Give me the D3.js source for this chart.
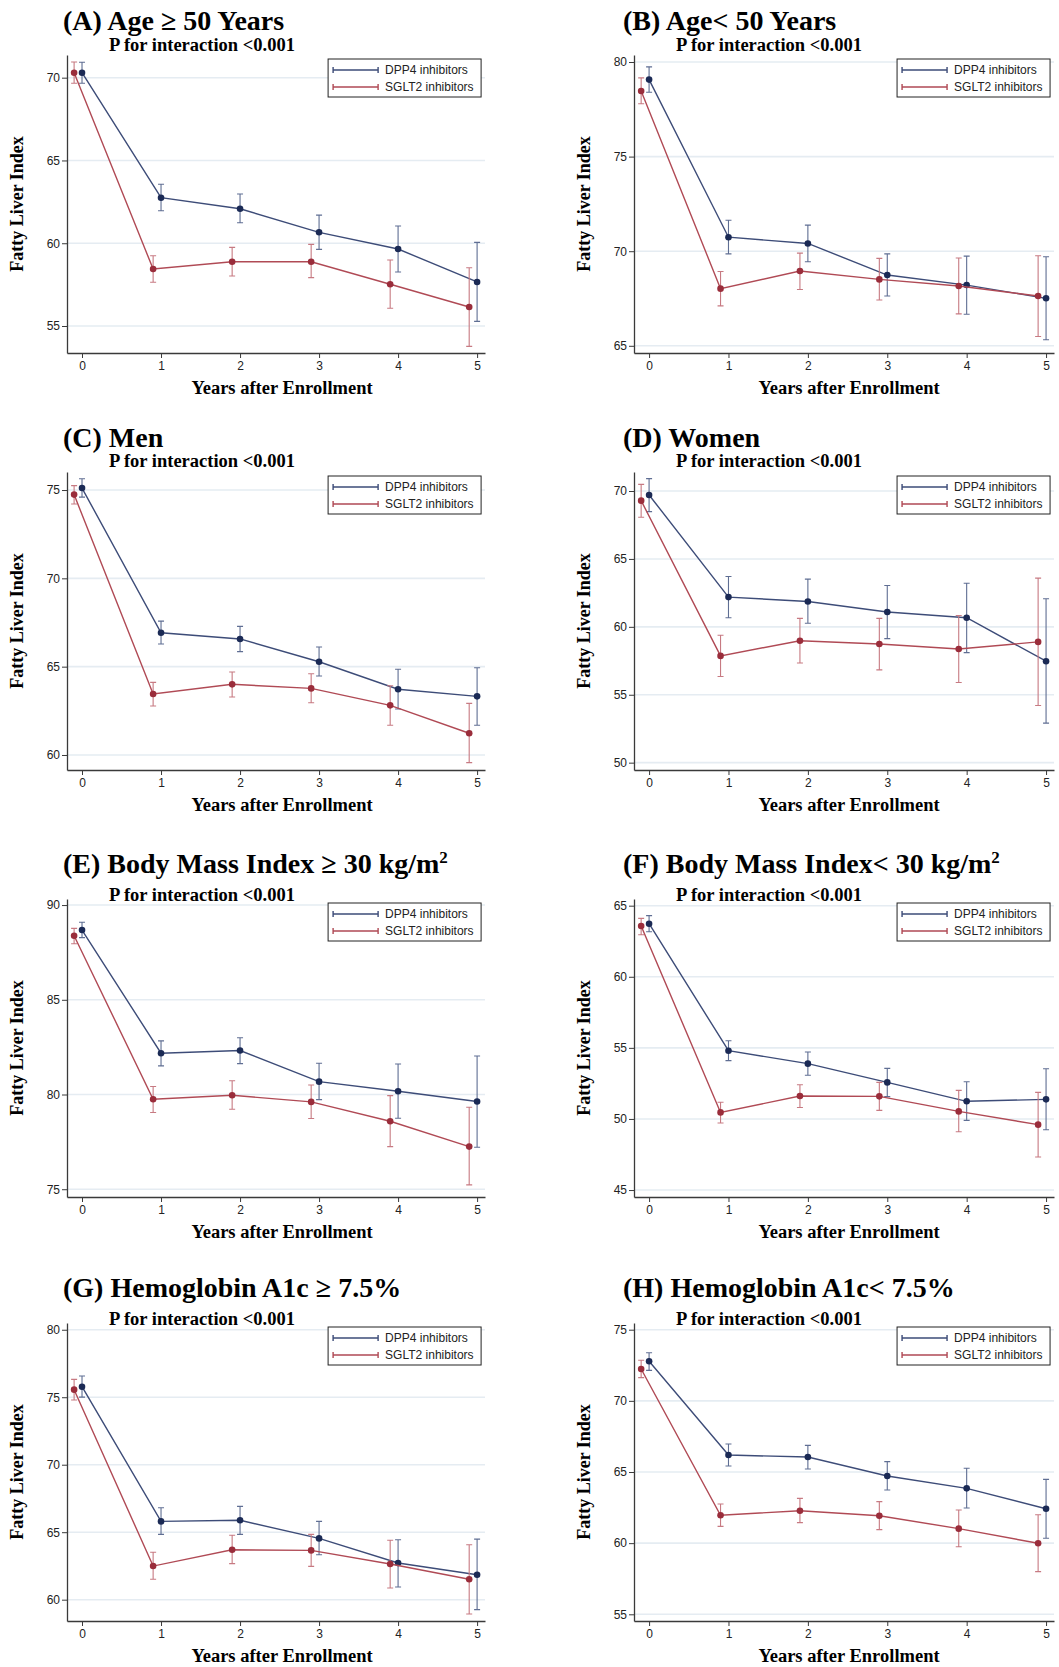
<!DOCTYPE html>
<html>
<head>
<meta charset="utf-8">
<script src="https://cdn.jsdelivr.net/npm/d3@7"></script>
<style>
  body { margin: 0; background: #fff; }
  svg { display: block; }
  .ttl { font-family: "Liberation Serif", "Times New Roman", serif; font-weight: bold; fill: #000; }
  .tick text, .leg text { font-family: "Liberation Sans", Arial, sans-serif; }
</style>
</head>
<body>
<svg id="chart" width="1059" height="1667"></svg>
<script>
// ---- data ----
const years = [0, 1, 2, 3, 4, 5];
const seriesNames = ["DPP4 inhibitors", "SGLT2 inhibitors"];

const titles = [
  "(A) Age \u2265 50 Years", "(B) Age< 50 Years",
  "(C) Men", "(D) Women",
  "(E) Body Mass Index \u2265 30 kg/m", "(F) Body Mass Index< 30 kg/m",
  "(G) Hemoglobin A1c \u2265 7.5%", "(H) Hemoglobin A1c< 7.5%"
];
const titleSup = ["", "", "", "", "2", "2", "", ""];
const pText = "P for interaction <0.001";

const yTicksA = [55, 60, 65, 70], yRangeA = [53.37, 71.37];
const yTicksB = [65, 70, 75, 80], yRangeB = [64.62, 80.37];
const yTicksC = [60, 65, 70, 75], yRangeC = [59.15, 76.02];
const yTicksD = [50, 55, 60, 65, 70], yRangeD = [49.46, 71.4];
const yTicksE = [75, 80, 85, 90], yRangeE = [74.59, 90.32];
const yTicksF = [45, 50, 55, 60, 65], yRangeF = [44.51, 65.47];
const yTicksG = [60, 65, 70, 75, 80], yRangeG = [58.42, 80.5];
const yTicksH = [55, 60, 65, 70, 75], yRangeH = [54.53, 75.47];

// (A) Age >= 50
const dppA  = [70.30, 62.75, 62.08, 60.66, 59.65, 57.66];
const dppLoA = [69.66, 61.96, 61.24, 59.63, 58.26, 55.28];
const dppHiA = [70.93, 63.56, 62.97, 61.70, 61.04, 60.05];
const sgA   = [70.30, 58.44, 58.88, 58.88, 57.52, 56.15];
const sgLoA = [69.66, 57.64, 58.02, 57.92, 56.07, 53.77];
const sgHiA = [70.95, 59.24, 59.75, 59.93, 58.99, 58.52];
// (B) Age < 50
const dppB  = [79.07, 70.74, 70.41, 68.74, 68.21, 67.51];
const dppLoB = [78.40, 69.86, 69.44, 67.63, 66.67, 65.32];
const dppHiB = [79.74, 71.64, 71.38, 69.86, 69.74, 69.71];
const sgB   = [78.47, 68.02, 68.95, 68.51, 68.16, 67.63];
const sgLoB = [77.79, 67.11, 67.98, 67.42, 66.69, 65.49];
const sgHiB = [79.16, 68.93, 69.90, 69.62, 69.64, 69.76];
// (C) Men
const dppC  = [75.11, 66.92, 66.57, 65.28, 63.72, 63.32];
const dppLoC = [74.60, 66.28, 65.85, 64.47, 62.60, 61.68];
const dppHiC = [75.64, 67.58, 67.28, 66.11, 64.85, 64.94];
const sgC   = [74.74, 63.45, 64.00, 63.77, 62.81, 61.23];
const sgLoC = [74.21, 62.77, 63.28, 62.96, 61.68, 59.57];
const sgHiC = [75.25, 64.11, 64.70, 64.60, 63.92, 62.92];
// (D) Women
const dppD  = [69.71, 62.19, 61.87, 61.09, 60.67, 57.47];
const dppLoD = [68.48, 60.67, 60.26, 59.13, 58.10, 52.91];
const dppHiD = [70.91, 63.71, 63.51, 63.04, 63.21, 62.07];
const sgD   = [69.29, 57.86, 58.98, 58.74, 58.37, 58.89];
const sgLoD = [68.07, 56.34, 57.34, 56.83, 55.90, 54.21];
const sgHiD = [70.49, 59.38, 60.62, 60.62, 60.84, 63.59];
// (E) BMI >= 30
const dppE  = [88.68, 82.18, 82.32, 80.68, 80.17, 79.63];
const dppLoE = [88.28, 81.51, 81.63, 79.73, 78.75, 77.22];
const dppHiE = [89.09, 82.83, 83.00, 81.65, 81.61, 82.03];
const sgE   = [88.38, 79.75, 79.96, 79.61, 78.59, 77.25];
const sgLoE = [87.96, 79.05, 79.22, 78.73, 77.25, 75.23];
const sgHiE = [88.77, 80.42, 80.73, 80.50, 79.94, 79.33];
// (F) BMI < 30
const dppF  = [63.73, 54.80, 53.89, 52.57, 51.24, 51.38];
const dppLoF = [63.17, 54.10, 53.07, 51.57, 49.90, 49.24];
const dppHiF = [64.30, 55.50, 54.71, 53.56, 52.62, 53.53];
const sgF   = [63.57, 50.46, 51.61, 51.59, 50.53, 49.60];
const sgLoF = [62.96, 49.71, 50.81, 50.60, 49.10, 47.32];
const sgHiF = [64.11, 51.17, 52.41, 52.57, 52.01, 51.87];
// (G) HbA1c >= 7.5
const dppG  = [75.78, 65.80, 65.88, 64.54, 62.72, 61.85];
const dppLoG = [75.01, 64.84, 64.84, 63.33, 60.94, 59.26];
const dppHiG = [76.57, 66.81, 66.91, 65.80, 64.44, 64.49];
const sgG   = [75.56, 62.49, 63.70, 63.65, 62.64, 61.51];
const sgLoG = [74.79, 61.51, 62.67, 62.47, 60.86, 58.94];
const sgHiG = [76.32, 63.51, 64.77, 64.84, 64.40, 64.07];
// (H) HbA1c < 7.5
const dppH  = [72.78, 66.19, 66.05, 64.72, 63.85, 62.42];
const dppLoH = [72.14, 65.42, 65.21, 63.74, 62.47, 60.34];
const dppHiH = [73.38, 66.97, 66.87, 65.73, 65.26, 64.48];
const sgH   = [72.24, 61.96, 62.28, 61.93, 61.02, 59.99];
const sgLoH = [71.63, 61.18, 61.44, 60.95, 59.75, 58.00];
const sgHiH = [72.85, 62.75, 63.15, 62.92, 62.33, 62.00];

// ---- layout ----
const colAxisX = [67, 634], colRightX = [485, 1054], colTitleX = [63, 623];
const rowTop = [55, 472, 899, 1323], rowTitleY = [20, 437, 863, 1287], rowPY = [45, 461, 895, 1319];
const plotH = 298;

const lineCol = ["#3d4c78", "#b04a55"],
      dotCol  = ["#1b2a55", "#9a2d3b"],
      barCol  = ["#5f6e93", "#c77a82"];
const xShift = [0, -0.1];

const panels = [
  [yTicksA, yRangeA, [[dppA, dppLoA, dppHiA], [sgA, sgLoA, sgHiA]]],
  [yTicksB, yRangeB, [[dppB, dppLoB, dppHiB], [sgB, sgLoB, sgHiB]]],
  [yTicksC, yRangeC, [[dppC, dppLoC, dppHiC], [sgC, sgLoC, sgHiC]]],
  [yTicksD, yRangeD, [[dppD, dppLoD, dppHiD], [sgD, sgLoD, sgHiD]]],
  [yTicksE, yRangeE, [[dppE, dppLoE, dppHiE], [sgE, sgLoE, sgHiE]]],
  [yTicksF, yRangeF, [[dppF, dppLoF, dppHiF], [sgF, sgLoF, sgHiF]]],
  [yTicksG, yRangeG, [[dppG, dppLoG, dppHiG], [sgG, sgLoG, sgHiG]]],
  [yTicksH, yRangeH, [[dppH, dppLoH, dppHiH], [sgH, sgLoH, sgHiH]]]
];

const svg = d3.select("#chart");

panels.forEach(function(p, i) {
  const col = i % 2, row = Math.floor(i / 2);
  const left = colAxisX[col], right = colRightX[col];
  const top = rowTop[row], bottom = top + plotH;
  const g = svg.append("g");

  const x = d3.scaleLinear().domain([-0.19, 5.1]).range([left, right]);
  const y = d3.scaleLinear().domain(p[1]).range([bottom, top]);

  // grid
  g.append("g").selectAll("line").data(p[0]).join("line")
    .attr("x1", left).attr("x2", right)
    .attr("y1", d => y(d)).attr("y2", d => y(d))
    .attr("stroke", "#e5ecf2").attr("stroke-width", 1.6);

  // axes
  const ya = g.append("g").attr("transform", `translate(${left},0)`)
    .call(d3.axisLeft(y).tickValues(p[0]).tickSize(5).tickSizeOuter(0).tickPadding(2));
  const xa = g.append("g").attr("transform", `translate(0,${bottom})`)
    .call(d3.axisBottom(x).tickValues(years).tickFormat(d3.format("d"))
      .tickSize(5).tickSizeOuter(0).tickPadding(3));
  [ya, xa].forEach(a => {
    a.select(".domain").attr("stroke", "#3a3a3a").attr("stroke-width", 1.3);
    a.selectAll(".tick line").attr("stroke", "#3a3a3a").attr("stroke-width", 1);
    a.selectAll(".tick text").attr("font-size", 12).attr("fill", "#222");
  });

  // series
  p[2].forEach(function(s, k) {
    const pts = years.map((t, j) => ({t: t + xShift[k], m: s[0][j], lo: s[1][j], hi: s[2][j]}));
    const sg = g.append("g");
    sg.selectAll(".bar").data(pts).join("path")
      .attr("d", d => `M${x(d.t) - 3},${y(d.hi)}H${x(d.t) + 3}M${x(d.t)},${y(d.hi)}V${y(d.lo)}M${x(d.t) - 3},${y(d.lo)}H${x(d.t) + 3}`)
      .attr("fill", "none").attr("stroke", barCol[k]).attr("stroke-width", 1.1);
    sg.append("path").datum(pts)
      .attr("d", d3.line().x(d => x(d.t)).y(d => y(d.m)))
      .attr("fill", "none").attr("stroke", lineCol[k]).attr("stroke-width", 1.4);
    sg.selectAll("circle").data(pts).join("circle")
      .attr("cx", d => x(d.t)).attr("cy", d => y(d.m)).attr("r", 3.3)
      .attr("fill", dotCol[k]);
  });

  // legend
  const lx = x(5) - 149, ly = top + 4;
  const leg = g.append("g").attr("class", "leg");
  leg.append("rect").attr("x", lx).attr("y", ly).attr("width", 153).attr("height", 38)
    .attr("fill", "#fff").attr("stroke", "#222").attr("stroke-width", 1);
  seriesNames.forEach(function(n, k) {
    const yy = ly + 11 + k * 17;
    leg.append("path")
      .attr("d", `M${lx + 5},${yy - 3}V${yy + 3}M${lx + 5},${yy}H${lx + 50}M${lx + 50},${yy - 3}V${yy + 3}`)
      .attr("fill", "none").attr("stroke", lineCol[k]).attr("stroke-width", 1.4);
    leg.append("text").attr("x", lx + 57).attr("y", yy).attr("dy", "0.35em")
      .attr("font-size", 12).attr("fill", "#222").text(n);
  });

  // titles
  const t = g.append("text").attr("class", "ttl")
    .attr("x", colTitleX[col]).attr("y", rowTitleY[row]).attr("dy", "0.35em")
    .attr("font-size", 28).text(titles[i]);
  if (titleSup[i]) t.append("tspan").attr("font-size", 17).attr("dy", "-0.55em").text(titleSup[i]);

  g.append("text").attr("class", "ttl")
    .attr("x", left + 42).attr("y", rowPY[row]).attr("dy", "0.35em")
    .attr("font-size", 18.5).text(pText);

  g.append("text").attr("class", "ttl")
    .attr("transform", `translate(${left - 50},${(top + bottom) / 2}) rotate(-90)`)
    .attr("text-anchor", "middle").attr("dy", "0.35em")
    .attr("font-size", 18).text("Fatty Liver Index");

  g.append("text").attr("class", "ttl")
    .attr("x", left + 215).attr("y", bottom + 35).attr("dy", "0.35em")
    .attr("text-anchor", "middle").attr("font-size", 18.5).text("Years after Enrollment");
});
</script>
</body>
</html>
